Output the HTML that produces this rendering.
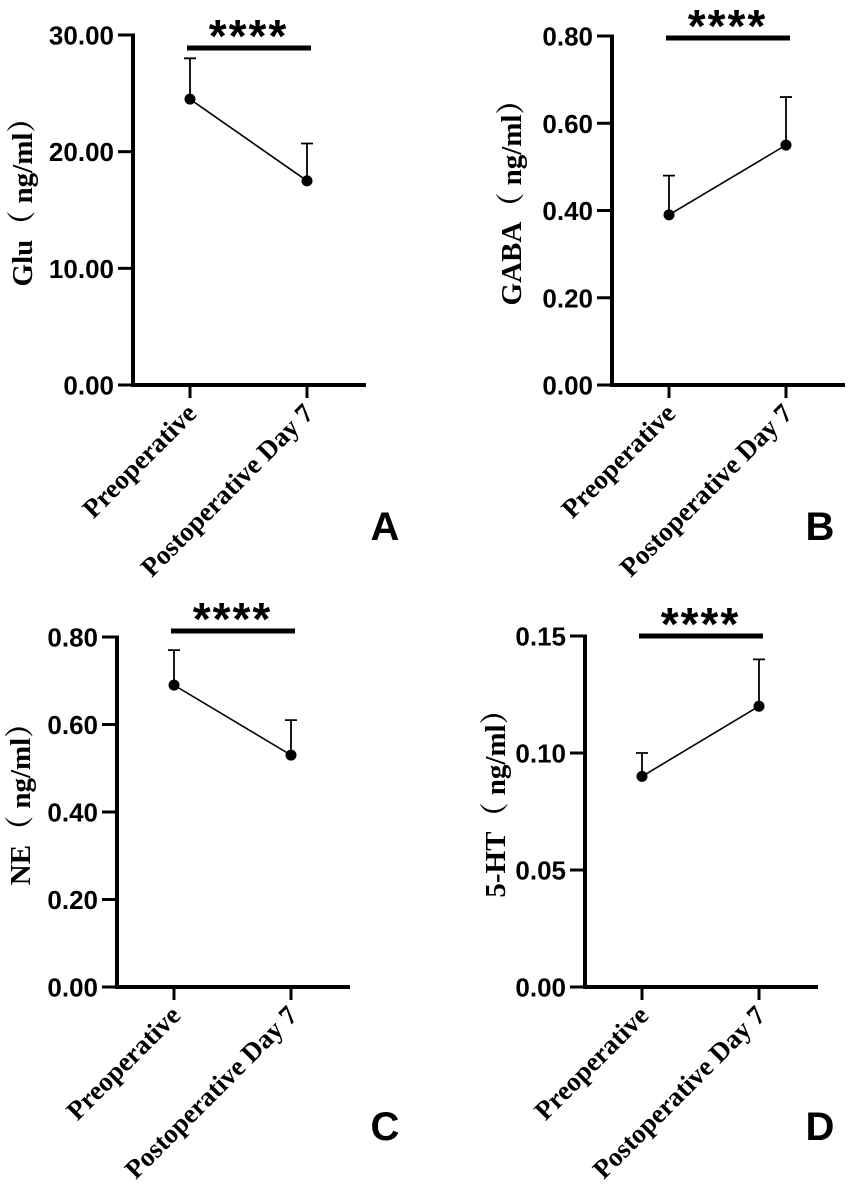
<!DOCTYPE html>
<html><head><meta charset="utf-8"><style>
body{margin:0;background:#fff}
svg{display:block}
.tick{font-family:"Liberation Sans",sans-serif;font-weight:bold;font-size:26px}
.ttl{font-family:"Liberation Serif","Noto Serif CJK SC",serif;font-weight:bold;font-size:29px}
.cat{font-family:"Liberation Serif",serif;font-weight:bold;font-size:27px}
.let{font-family:"Liberation Sans",sans-serif;font-weight:bold;font-size:40px}
.star{font-family:"Liberation Sans",sans-serif;font-weight:bold;font-size:46px}
</style></head><body>
<svg id="fig" width="851" height="1190" viewBox="0 0 851 1190"></svg>
<script>
const categories = ["Preoperative", "Postoperative Day 7"];
const gluMeans = [24.5, 17.5];
const gluErr = [3.5, 3.2];
const gabaMeans = [0.39, 0.55];
const gabaErr = [0.09, 0.11];
const neMeans = [0.69, 0.53];
const neErr = [0.08, 0.08];
const htMeans = [0.09, 0.12];
const htErr = [0.01, 0.02];
const gluTicks = ["0.00", "10.00", "20.00", "30.00"];
const gabaTicks = ["0.00", "0.20", "0.40", "0.60", "0.80"];
const neTicks = ["0.00", "0.20", "0.40", "0.60", "0.80"];
const htTicks = ["0.00", "0.05", "0.10", "0.15"];

const NS = "http://www.w3.org/2000/svg";
const svg = document.getElementById("fig");
function mk(tag, attrs, parent, text) {
  const e = document.createElementNS(NS, tag);
  for (const k in attrs) e.setAttribute(k, attrs[k]);
  if (text !== undefined) e.textContent = text;
  parent.appendChild(e);
  return e;
}
function panel(cfg) {
  const g = mk("g", {}, svg);
  
  
  const ax = cfg.ax, top = cfg.top, bot = cfg.bot;
  const ymax = parseFloat(cfg.ticks[cfg.ticks.length - 1]);
  const y = v => bot - (v / ymax) * (bot - top);
  const xs = [ax + 57, ax + 174];
  const x = i => xs[i];
  const ya = mk("line", {x1: ax, y1: top - 1.5, x2: ax, y2: bot, stroke: "#000", "stroke-width": 4}, g);
  
  
  const xa = mk("line", {x1: ax - 2, y1: bot, x2: ax + 233, y2: bot, stroke: "#000", "stroke-width": 4}, g);
  
  
  cfg.ticks.forEach(t => {
    const ty = y(parseFloat(t));
    mk("line", {x1: ax - 15, y1: ty, x2: ax, y2: ty, stroke: "#000", "stroke-width": 3}, g);
    const tl = mk("text", {x: ax - 19, y: ty + 9.5, "text-anchor": "end", class: "tick"}, g, t);
    
    
  });
  categories.forEach((c, i) => {
    mk("line", {x1: x(i), y1: bot, x2: x(i), y2: bot + 13, stroke: "#000", "stroke-width": 3}, g);
    const cl = mk("text", {x: x(i) + 8, y: bot + 30, "text-anchor": "end", class: "cat", transform: `rotate(-45 ${x(i) + 8} ${bot + 30})`}, g, c);
    
    
  });
  const cy = (top + bot) / 2 - 15;
  const yt = mk("text", {x: cfg.tx, y: cy, "text-anchor": "middle", class: "ttl", transform: `rotate(-90 ${cfg.tx} ${cy})`}, g, cfg.title);
  
  
  cfg.means.forEach((m, i) => {
    const e = mk("path", {d: `M${x(i)},${y(m)}V${y(m + cfg.err[i])}M${x(i) - 6},${y(m + cfg.err[i])}H${x(i) + 6}`, stroke: "#000", "stroke-width": 1.8, fill: "none"}, g);
    
    
  });
  const ln = mk("line", {x1: x(0), y1: y(cfg.means[0]), x2: x(1), y2: y(cfg.means[1]), stroke: "#000", "stroke-width": 1.6}, g);
  
  
  cfg.means.forEach((m, i) => {
    const p = mk("circle", {cx: x(i), cy: y(m), r: 5.5, fill: "#000"}, g);
    
    
  });
  const sb = mk("line", {x1: x(0) - 3, y1: cfg.barY, x2: x(1) + 4, y2: cfg.barY, stroke: "#000", "stroke-width": 5}, g);
  
  
  const st = mk("text", {x: (x(0) + x(1)) / 2, y: cfg.barY + 4, "text-anchor": "middle", class: "star", "letter-spacing": "2"}, g, "****");
  
  
  const pl = mk("text", {x: cfg.lx, y: cfg.ly, "text-anchor": "middle", class: "let"}, g, cfg.letter);
  
  
}
panel({name: "panel-a-glu", ax: 133, top: 35, bot: 385, ticks: gluTicks, means: gluMeans, err: gluErr, title: "Glu（ ng/ml）", tx: 32, barY: 48, letter: "A", lx: 385, ly: 540});
panel({name: "panel-b-gaba", ax: 612, top: 36, bot: 385, ticks: gabaTicks, means: gabaMeans, err: gabaErr, title: "GABA（ ng/ml）", tx: 521, barY: 38, letter: "B", lx: 820, ly: 540});
panel({name: "panel-c-ne", ax: 117, top: 637, bot: 987, ticks: neTicks, means: neMeans, err: neErr, title: "NE（ ng/ml）", tx: 30, barY: 631, letter: "C", lx: 385, ly: 1140});
panel({name: "panel-d-5ht", ax: 585, top: 636, bot: 987, ticks: htTicks, means: htMeans, err: htErr, title: "5-HT（ ng/ml）", tx: 505, barY: 636, letter: "D", lx: 820, ly: 1140});
</script>
</body></html>
